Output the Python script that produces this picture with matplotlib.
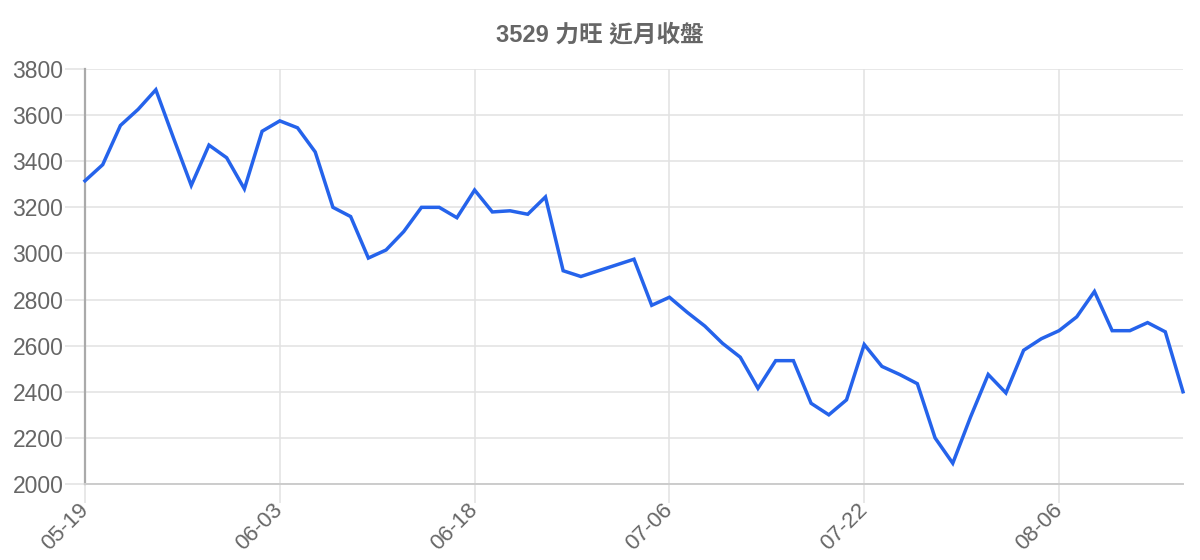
import matplotlib
matplotlib.use("Agg")
import matplotlib.pyplot as plt

# ---- data ----
title = "3529 力旺 近月收盤"
tick_labels = ["05-19", "06-03", "06-18", "07-06", "07-22", "08-06"]
close = [
    3315, 3385, 3555, 3625, 3710, 3500, 3295, 3470, 3415, 3280,
    3530, 3575, 3545, 3440, 3200, 3160, 2980, 3015, 3095, 3200,
    3200, 3155, 3275, 3180, 3185, 3170, 3245, 2925, 2900, 2925,
    2950, 2975, 2775, 2810, 2745, 2685, 2610, 2550, 2415, 2535,
    2535, 2350, 2300, 2365, 2605, 2510, 2475, 2435, 2200, 2090,
    2290, 2475, 2395, 2580, 2630, 2665, 2725, 2835, 2665, 2665,
    2700, 2660, 2400,
]
y_ticks = [2000, 2200, 2400, 2600, 2800, 3000, 3200, 3400, 3600, 3800]
tick_step = 11

W, H, DPI = 1200, 560, 100
fig = plt.figure(figsize=(W / DPI, H / DPI), dpi=DPI)
ax = fig.add_axes([85 / W, 1 - 484 / H, (1183 - 85) / W, (484 - 69) / H])

x = list(range(len(close)))
ax.plot(x, close, color="#2563eb", linewidth=2.5, solid_joinstyle="miter",
        zorder=3, clip_on=False)

ax.set_xlim(0, len(close) - 1)
ax.set_ylim(y_ticks[0], y_ticks[-1])

xt = list(range(0, len(close), tick_step))[: len(tick_labels)]
ax.set_xticks(xt)
ax.set_xticklabels(tick_labels, rotation=45, ha="right", va="center",
                   rotation_mode="anchor", fontsize=16, color="#666666",
                   family="Liberation Sans")
ax.set_yticks(y_ticks)
ax.set_yticklabels([str(v) for v in y_ticks], fontsize=16.5, color="#666666",
                   family="Liberation Sans")

grid_c = "#e2e2e2"
ax.grid(True, color=grid_c, linewidth=1.1, zorder=0)
ax.set_axisbelow(True)
ax.tick_params(axis="y", length=14.4, width=1.1, color=grid_c, pad=1.2)
ax.tick_params(axis="x", length=13.7, width=1.1, color=grid_c, pad=3)

for s in ["top", "right"]:
    ax.spines[s].set_visible(False)
ax.spines["left"].set_color("#aaaaaa")
ax.spines["left"].set_linewidth(1.6)
ax.spines["bottom"].set_color("#cccccc")
ax.spines["bottom"].set_linewidth(1.4)

fig.text(0.5, 1 - 35 / H, title, ha="center", va="center", fontsize=17,
         fontweight="bold", color="#666666",
         family=["Liberation Sans", "Noto Sans CJK TC"])

fig.savefig("out.png", dpi=DPI)
